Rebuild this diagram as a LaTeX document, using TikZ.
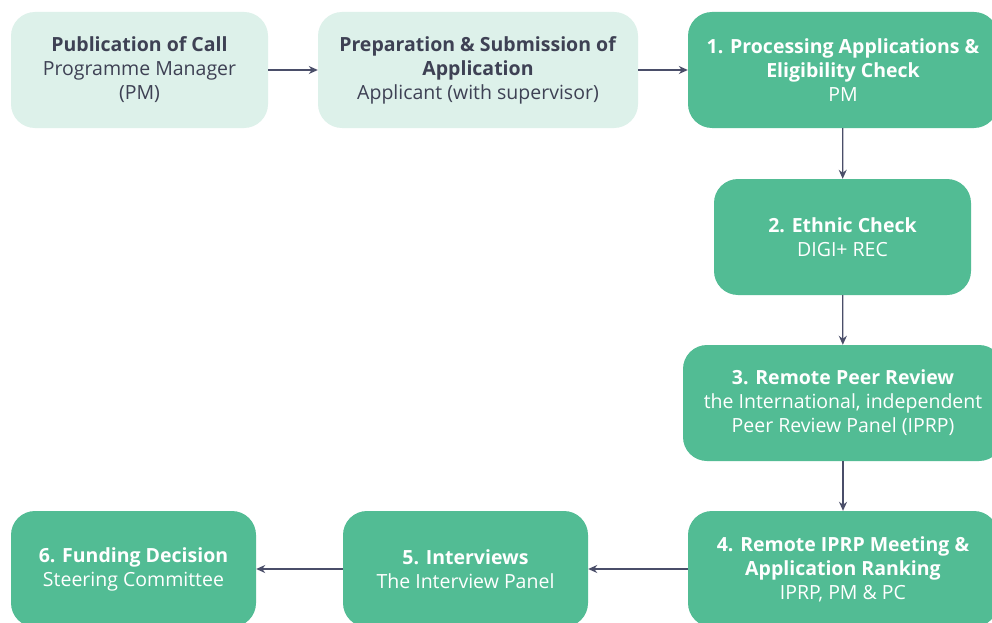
\documentclass[tikz,border=0pt]{standalone}
\usepackage{fontspec}
\setmainfont{Open Sans}
\usetikzlibrary{arrows.meta}
\definecolor{palegreen}{HTML}{DDF1EA}
\definecolor{stepgreen}{HTML}{52BC94}
\definecolor{inkgrey}{HTML}{3E4154}
\definecolor{arrowgrey}{HTML}{4A4E69}
\tikzset{
    stagebox/.style={rounded corners=24pt,align=center,inner sep=0pt,
        font=\fontsize{19.5}{24}\selectfont},
    prebox/.style={stagebox,fill=palegreen,text=inkgrey},
    mainbox/.style={stagebox,fill=stepgreen,text=white},
    flow/.style={-{Stealth[length=9pt,width=8pt]},arrowgrey,line width=1.3pt}
}
\begin{document}
\begin{tikzpicture}[x=1pt,y=-1pt]
    \useasboundingbox[fill=white] (0,0) rectangle (992,623);
    % preparation stages
    \node[prebox,minimum width=257pt,minimum height=116pt] (call) at (139.5,70)
        {\textbf{Publication of Call}\\Programme Manager\\(PM)};
    \node[prebox,minimum width=320pt,minimum height=116pt] (prep) at (478,70)
        {\textbf{Preparation \& Submission of}\\\textbf{Application}\\Applicant (with supervisor)};
    % evaluation stages
    \node[mainbox,minimum width=310pt,minimum height=116pt] (proc) at (843,70)
        {\textbf{1. Processing Applications \&}\\\textbf{Eligibility Check}\\PM};
    \node[mainbox,minimum width=257pt,minimum height=116pt] (ethic) at (842.5,237)
        {\textbf{2. Ethnic Check}\\DIGI+ REC};
    \node[mainbox,minimum width=320pt,minimum height=116pt] (review) at (843,403)
        {\textbf{3. Remote Peer Review}\\the International, independent\\Peer Review Panel (IPRP)};
    \node[mainbox,minimum width=310pt,minimum height=116pt] (rank) at (843,569)
        {\textbf{4. Remote IPRP Meeting \&}\\\textbf{Application Ranking}\\IPRP, PM \& PC};
    \node[mainbox,minimum width=245pt,minimum height=116pt] (interv) at (465.5,569)
        {\textbf{5. Interviews}\\The Interview Panel};
    \node[mainbox,minimum width=245pt,minimum height=116pt] (fund) at (133.5,569)
        {\textbf{6. Funding Decision}\\Steering Committee};
    % connectors
    \draw[flow] (call) -- (prep);
    \draw[flow] (prep) -- (proc);
    \draw[flow] (proc) -- (ethic);
    \draw[flow] (ethic) -- (review);
    \draw[flow] (review) -- (rank);
    \draw[flow] (rank) -- (interv);
    \draw[flow] (interv) -- (fund);
\end{tikzpicture}
\end{document}
